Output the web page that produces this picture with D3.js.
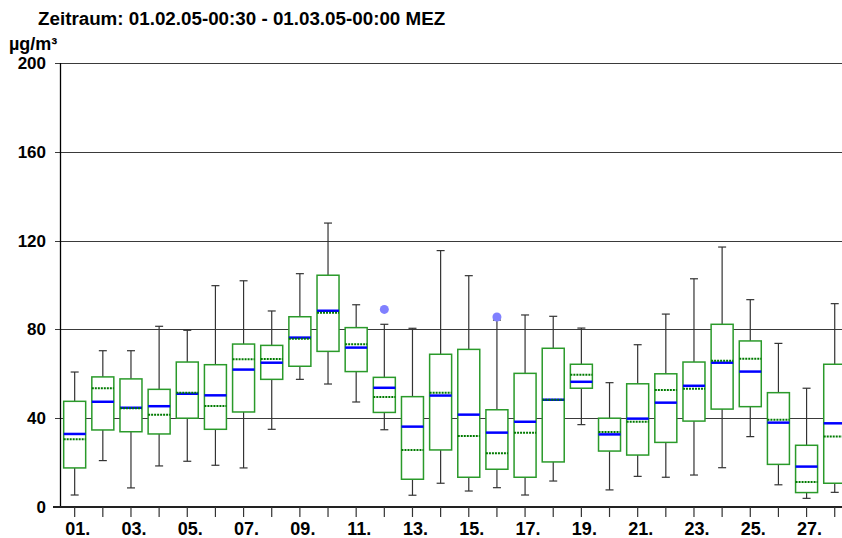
<!DOCTYPE html>
<html>
<head>
<meta charset="utf-8">
<script src="https://cdn.jsdelivr.net/npm/d3@7/dist/d3.min.js"></script>
<style>
  body { margin: 0; background: #fff; }
  svg { display: block; font-family: Arial, "Liberation Sans", sans-serif; }
</style>
</head>
<body>
<svg id="chart" width="842" height="538"></svg>
<script>
/*
 * Box plot of the daily values for February 2005.
 * Blue line = median, green dotted line = mean, dots = outliers.
 */

// days of the period
var days = [1, 2, 3, 4, 5, 6, 7, 8, 9, 10, 11, 12, 13, 14,
            15, 16, 17, 18, 19, 20, 21, 22, 23, 24, 25, 26, 27, 28];

// values, in µg/m³
var whisker_low  = [5.4, 20.9, 8.6, 18.5, 20.6, 18.8, 17.6, 35.0, 57.5, 55.4, 47.3, 34.8, 5.3, 10.7,
                    7.2, 8.7, 5.4, 11.7, 37.1, 7.7, 13.8, 13.4, 14.4, 17.7, 31.7, 10.0, 3.9, 6.6];
var quart_low    = [17.6, 34.7, 33.9, 32.9, 40.0, 35.0, 42.8, 57.5, 63.4, 70.1, 61.0, 42.6, 12.5, 25.7,
                    13.4, 17.0, 13.4, 20.3, 53.5, 25.2, 23.4, 29.1, 38.7, 44.1, 45.2, 19.2, 6.5, 10.7];
var medians      = [32.9, 47.4, 44.7, 45.4, 51.0, 50.3, 61.9, 65.0, 76.3, 88.4, 71.8, 53.7, 36.2, 50.2,
                    41.6, 33.5, 38.4, 48.3, 56.4, 32.7, 39.8, 47.0, 54.6, 65.0, 61.0, 38.0, 18.2, 37.7];
var means        = [30.5, 53.5, 44.5, 41.6, 51.5, 45.5, 66.5, 66.7, 75.8, 87.5, 73.3, 49.5, 25.7, 51.5,
                    32.0, 24.2, 33.5, 48.3, 59.6, 33.8, 38.4, 52.7, 53.3, 65.9, 66.8, 39.3, 11.3, 31.8];
var quart_high   = [47.6, 58.6, 57.7, 53.0, 65.3, 64.1, 73.4, 72.8, 85.7, 104.4, 80.8, 58.4, 49.7, 68.8,
                    71.0, 43.8, 60.2, 71.5, 64.3, 40.0, 55.5, 60.0, 65.3, 82.3, 74.8, 51.5, 27.8, 64.3];
var whisker_high = [60.8, 70.4, 70.4, 81.4, 79.6, 99.7, 101.9, 88.3, 105.1, 127.9, 91.1, 82.3, 80.5, 115.5,
                    104.2, 84.2, 86.5, 85.9, 80.6, 56.0, 73.1, 86.9, 102.8, 117.1, 93.4, 73.7, 53.5, 91.6];

// outliers: day and value
var outlier_days   = [12, 16];
var outlier_values = [89.0, 85.6];

var y_ticks = [0, 40, 80, 120, 160, 200];

var title_text = "Zeitraum: 01.02.05-00:30 - 01.03.05-00:00 MEZ";
var unit_text = "µg/m³";

// build one record per day
var boxes = days.map(function(d, i) {
    return {day: d, lo: whisker_low[i], q1: quart_low[i], med: medians[i],
            mean: means[i], q3: quart_high[i], hi: whisker_high[i]};
});
var outliers = outlier_days.map(function(d, i) {
    return {day: d, value: outlier_values[i]};
});

var svg = d3.select("#chart");

var x = d3.scaleLinear().domain([0.5, 28.5]).range([60.6, 848.8]);
var y = d3.scaleLinear().domain([0, 200]).range([507, 63]);

var box_w = 22;
var cap_w = 8;

// horizontal grid lines
svg.append("g").selectAll("line")
    .data(y_ticks.filter(function(t) { return t > 0; }))
    .enter().append("line")
    .attr("x1", 55).attr("x2", 842)
    .attr("y1", function(d) { return Math.round(y(d)) + 0.5; })
    .attr("y2", function(d) { return Math.round(y(d)) + 0.5; })
    .attr("stroke", "#3a3a3a")
    .attr("stroke-width", 1.2);

// whiskers (from box edges outwards) and caps
var whisk = svg.append("g").attr("stroke", "#333").attr("stroke-width", 1.2);
whisk.selectAll(".w-up")
    .data(boxes).enter().append("line")
    .attr("class", "w-up")
    .attr("x1", function(d) { return x(d.day); })
    .attr("x2", function(d) { return x(d.day); })
    .attr("y1", function(d) { return y(d.q3); })
    .attr("y2", function(d) { return y(d.hi); });
whisk.selectAll(".w-down")
    .data(boxes).enter().append("line")
    .attr("class", "w-down")
    .attr("x1", function(d) { return x(d.day); })
    .attr("x2", function(d) { return x(d.day); })
    .attr("y1", function(d) { return y(d.q1); })
    .attr("y2", function(d) { return y(d.lo); });
whisk.selectAll(".cap-up")
    .data(boxes).enter().append("line")
    .attr("class", "cap-up")
    .attr("x1", function(d) { return x(d.day) - cap_w / 2; })
    .attr("x2", function(d) { return x(d.day) + cap_w / 2; })
    .attr("y1", function(d) { return y(d.hi); })
    .attr("y2", function(d) { return y(d.hi); });
whisk.selectAll(".cap-down")
    .data(boxes).enter().append("line")
    .attr("class", "cap-down")
    .attr("x1", function(d) { return x(d.day) - cap_w / 2; })
    .attr("x2", function(d) { return x(d.day) + cap_w / 2; })
    .attr("y1", function(d) { return y(d.lo); })
    .attr("y2", function(d) { return y(d.lo); });

// boxes
svg.append("g").selectAll("rect")
    .data(boxes).enter().append("rect")
    .attr("x", function(d) { return x(d.day) - box_w / 2; })
    .attr("y", function(d) { return y(d.q3); })
    .attr("width", box_w)
    .attr("height", function(d) { return y(d.q1) - y(d.q3); })
    .attr("fill", "#fff")
    .attr("stroke", "#2a9a2a")
    .attr("stroke-width", 1.5);

// median lines
svg.append("g").selectAll("line")
    .data(boxes).enter().append("line")
    .attr("x1", function(d) { return x(d.day) - box_w / 2; })
    .attr("x2", function(d) { return x(d.day) + box_w / 2; })
    .attr("y1", function(d) { return y(d.med); })
    .attr("y2", function(d) { return y(d.med); })
    .attr("stroke", "#0000ff")
    .attr("stroke-width", 2.5);

// mean lines (dotted)
svg.append("g").selectAll("line")
    .data(boxes).enter().append("line")
    .attr("x1", function(d) { return x(d.day) - box_w / 2; })
    .attr("x2", function(d) { return x(d.day) + box_w / 2; })
    .attr("y1", function(d) { return y(d.mean); })
    .attr("y2", function(d) { return y(d.mean); })
    .attr("stroke", "#007a00")
    .attr("stroke-width", 2)
    .attr("stroke-dasharray", "2,1");

// outliers
svg.append("g").selectAll("circle")
    .data(outliers).enter().append("circle")
    .attr("cx", function(d) { return x(d.day); })
    .attr("cy", function(d) { return y(d.value); })
    .attr("r", 4.5)
    .attr("fill", "#8080ff");

// y axis line + ticks + labels
svg.append("line")
    .attr("x1", 60.5).attr("x2", 60.5)
    .attr("y1", y(200)).attr("y2", y(0) + 1)
    .attr("stroke", "#000").attr("stroke-width", 1.3);
svg.append("g").selectAll("text")
    .data(y_ticks).enter().append("text")
    .attr("x", 46)
    .attr("y", function(d) { return y(d) + 6; })
    .attr("text-anchor", "end")
    .attr("font-size", 17)
    .attr("font-weight", "bold")
    .text(function(d) { return d; });

// x axis line, ticks and labels
svg.append("line")
    .attr("x1", 53).attr("x2", 842)
    .attr("y1", y(0)).attr("y2", y(0))
    .attr("stroke", "#222").attr("stroke-width", 2);
svg.append("g").selectAll("line")
    .data(days).enter().append("line")
    .attr("x1", function(d) { return x(d); })
    .attr("x2", function(d) { return x(d); })
    .attr("y1", y(0))
    .attr("y2", y(0) + 10)
    .attr("stroke", "#333")
    .attr("stroke-width", 1.2);
svg.append("g").selectAll("text")
    .data(days.filter(function(d) { return d % 2 === 1; }))
    .enter().append("text")
    .attr("x", function(d) { return x(d) + 3; })
    .attr("y", 535)
    .attr("text-anchor", "middle")
    .attr("font-size", 18)
    .attr("font-weight", "bold")
    .text(function(d) { return (d < 10 ? "0" : "") + d + "."; });

// title and unit
svg.append("text")
    .attr("x", 38).attr("y", 25)
    .attr("font-size", 18.8)
    .attr("font-weight", "bold")
    .text(title_text);
svg.append("text")
    .attr("x", 9).attr("y", 50)
    .attr("font-size", 18)
    .attr("font-weight", "bold")
    .text(unit_text);
</script>
</body>
</html>
